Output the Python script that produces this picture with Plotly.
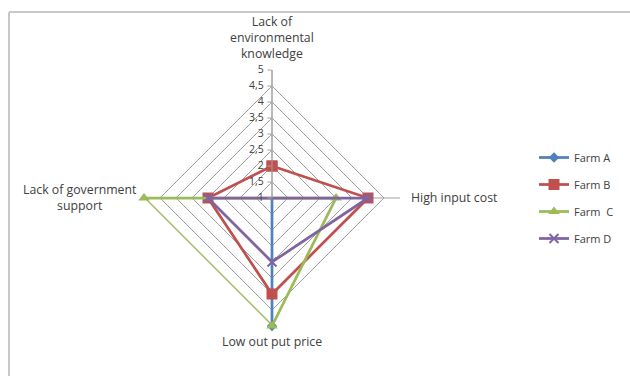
import plotly.graph_objects as go

# Constraint categories (clockwise from top)
categories = [
    "Lack of<br>environmental<br>knowledge",
    "High input cost",
    "Low out put price",
    "Lack of government<br>support",
]

# Scores per farm
farm_a = [1, 1, 5, 1]
farm_b = [2, 4, 4, 3]
farm_c = [1, 3, 5, 5]
farm_d = [1, 4, 3, 3]

series_names = ["Farm A", "Farm B", "Farm\u00a0 C", "Farm D"]
series_values = [farm_a, farm_b, farm_c, farm_d]
series_colors = ["#4F81BD", "#C0504D", "#9BBB59", "#8064A2"]
series_symbols = ["diamond", "square", "triangle-up", "x-thin-open"]
series_sizes = [8, 11, 10, 9]

radial_ticks = [1, 1.5, 2, 2.5, 3, 3.5, 4, 4.5, 5]
radial_labels = ["1", "1,5", "2", "2,5", "3", "3,5", "4", "4,5", "5"]

W, H = 630, 376
cx, cy, rad = 272, 198, 128
FONT = "Open Sans, Liberation Sans, sans-serif"
TXT = "#404040"

fig = go.Figure()
for i, (name, vals) in enumerate(zip(series_names, series_values)):
    fig.add_trace(go.Scatterpolar(
        r=vals + vals[:1],
        theta=categories + categories[:1],
        mode="lines+markers",
        name=name,
        legendgroup=name,
        line=dict(color=series_colors[i], width=2.75),
        marker=dict(symbol=series_symbols[i], size=series_sizes[i],
                    color=series_colors[i],
                    line=dict(color=series_colors[i], width=2 if i == 3 else 0)),
    ))

# category labels placed just outside each spoke end
def px(x):
    return x / W

def py(y):
    return 1 - y / H

label_specs = [
    dict(x=px(cx), y=py(cy - rad - 6), xanchor="center", yanchor="bottom"),
    dict(x=px(cx + rad + 9), y=py(cy), xanchor="left", yanchor="middle"),
    dict(x=px(cx), y=py(cy + rad + 5), xanchor="center", yanchor="top"),
    dict(x=px(cx - rad - 5), y=py(cy), xanchor="right", yanchor="middle"),
]
annotations = [
    dict(text=cat, xref="paper", yref="paper", showarrow=False, align="center",
         font=dict(family=FONT, size=12.3, color=TXT), **spec)
    for cat, spec in zip(categories, label_specs)
]

fig.update_layout(
    width=W, height=H,
    margin=dict(l=0, r=0, t=0, b=0),
    paper_bgcolor="white",
    plot_bgcolor="white",
    font=dict(family=FONT, size=10, color=TXT),
    polar=dict(
        domain=dict(x=[(cx - rad) / W, (cx + rad) / W],
                    y=[(H - cy - rad) / H, (H - cy + rad) / H]),
        bgcolor="white",
        gridshape="linear",
        angularaxis=dict(
            rotation=90, direction="clockwise",
            showline=False, showticklabels=False,
            gridcolor="#A0A0A0", gridwidth=1, ticks="",
        ),
        radialaxis=dict(
            range=[1, 5], angle=90, tickangle=90,
            tickvals=radial_ticks, ticktext=radial_labels,
            gridcolor="#A0A0A0", gridwidth=1,
            showline=True, linecolor="#A0A0A0", linewidth=1,
            ticks="outside", ticklen=4, tickcolor="#A0A0A0",
            tickfont=dict(family=FONT, size=10.5, color=TXT),
            side="counterclockwise",
        ),
    ),
    legend=dict(
        x=534 / W, y=1 - 143 / H, xanchor="left", yanchor="top",
        font=dict(family=FONT, size=11, color=TXT),
        tracegroupgap=8, itemwidth=30,
        bgcolor="rgba(0,0,0,0)",
    ),
    annotations=annotations,
    shapes=[
        dict(type="line", xref="paper", yref="paper",
             x0=9 / W, x1=1, y0=1 - 12 / H, y1=1 - 12 / H,
             line=dict(color="#C8C8C8", width=2)),
        dict(type="line", xref="paper", yref="paper",
             x0=9 / W, x1=9 / W, y0=0, y1=1 - 12 / H,
             line=dict(color="#C8C8C8", width=2)),
    ],
)

fig.write_html("out.html")
